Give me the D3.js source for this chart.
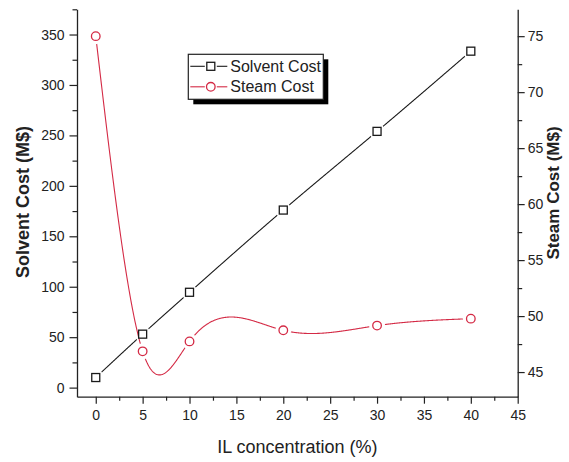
<!DOCTYPE html>
<html>
<head>
<meta charset="utf-8">
<script src="https://cdn.jsdelivr.net/npm/d3@7"></script>
<style>
  body { margin: 0; background: #fff; }
  text { font-family: Arial, "Liberation Sans", sans-serif; fill: #222; }
</style>
</head>
<body>
<svg id="chart" width="569" height="462"></svg>
<script>
// IL concentration (%) and the two cost series
const concentration = [0, 5, 10, 20, 30, 40];
const solventCost = [10, 53, 94.5, 176, 254, 333.5];     // M$, left axis
const steamCost = [75, 46.85, 47.74, 48.73, 49.15, 49.77]; // M$, right axis

const xTicks = [0, 5, 10, 15, 20, 25, 30, 35, 40, 45];
const xMinorTicks = [2.5, 7.5, 12.5, 17.5, 22.5, 27.5, 32.5, 37.5, 42.5];
const solventTicks = [0, 50, 100, 150, 200, 250, 300, 350];
const solventMinorTicks = [25, 75, 125, 175, 225, 275, 325, 375];
const steamTicks = [45, 50, 55, 60, 65, 70, 75];
const steamMinorTicks = [47.5, 52.5, 57.5, 62.5, 67.5, 72.5];

const legendLabels = ["Solvent Cost", "Steam Cost"];
const colors = { solvent: "#1a1a1a", steam: "#d42a45" };

const svg = d3.select("#chart");
const plot = { left: 77, right: 517.7, top: 9.3, bottom: 396.7 };

const x = d3.scaleLinear().domain([-2, 45]).range([plot.left, plot.right]);
const yL = d3.scaleLinear().domain([-9, 375]).range([plot.bottom, plot.top]);
const yR = d3.scaleLinear().domain([42.8, 77.4]).range([plot.bottom, plot.top]);

// Natural cubic spline y(x) through the data points
function naturalSpline(xs, ys) {
  const n = xs.length;
  const h = d3.range(n - 1).map(i => xs[i + 1] - xs[i]);
  const M = new Array(n).fill(0);
  const a = [], b = [], c = [], d = [];
  for (let i = 1; i < n - 1; i++) {
    a.push(h[i - 1]);
    b.push(2 * (h[i - 1] + h[i]));
    c.push(h[i]);
    d.push(6 * ((ys[i + 1] - ys[i]) / h[i] - (ys[i] - ys[i - 1]) / h[i - 1]));
  }
  const m = b.length;
  for (let i = 1; i < m; i++) {
    const w = a[i] / b[i - 1];
    b[i] -= w * c[i - 1];
    d[i] -= w * d[i - 1];
  }
  const sol = new Array(m);
  sol[m - 1] = d[m - 1] / b[m - 1];
  for (let i = m - 2; i >= 0; i--) sol[i] = (d[i] - c[i] * sol[i + 1]) / b[i];
  for (let i = 0; i < m; i++) M[i + 1] = sol[i];
  return function (t) {
    let i = 0;
    while (i < n - 2 && t > xs[i + 1]) i++;
    const A = (xs[i + 1] - t) / h[i], B = 1 - A;
    return A * ys[i] + B * ys[i + 1] +
      ((A * A * A - A) * M[i] + (B * B * B - B) * M[i + 1]) * h[i] * h[i] / 6;
  };
}

const samples = d3.range(concentration[0], concentration[concentration.length - 1] + 1e-9, 0.05);

const series = [
  { key: "solvent", values: solventCost, y: yL, color: colors.solvent, shape: "square" },
  { key: "steam", values: steamCost, y: yR, color: colors.steam, shape: "circle" }
];

const defs = svg.append("defs");

// Lines stop short of each marker
series.forEach(s => {
  const mask = defs.append("mask").attr("id", "gap-" + s.key)
    .attr("maskUnits", "userSpaceOnUse").attr("x", 0).attr("y", 0)
    .attr("width", 569).attr("height", 462);
  mask.append("rect").attr("width", 569).attr("height", 462).attr("fill", "#fff");
  mask.selectAll("circle").data(concentration).join("circle")
    .attr("cx", (d, i) => x(d)).attr("cy", (d, i) => s.y(s.values[i]))
    .attr("r", 8).attr("fill", "#000");
});

series.forEach(s => {
  const f = naturalSpline(concentration, s.values);
  const line = d3.line().x(t => x(t)).y(t => s.y(f(t)));
  svg.append("path").datum(samples)
    .attr("d", line)
    .attr("fill", "none")
    .attr("stroke", s.color)
    .attr("stroke-width", 1.1)
    .attr("mask", "url(#gap-" + s.key + ")");
});

// Markers
function drawMarker(g, shape, cx, cy, color) {
  if (shape === "square") {
    g.append("rect").attr("x", cx - 4).attr("y", cy - 4).attr("width", 8).attr("height", 8)
      .attr("fill", "#fff").attr("stroke", color).attr("stroke-width", 1.3);
  } else {
    g.append("circle").attr("cx", cx).attr("cy", cy).attr("r", 4.3)
      .attr("fill", "#fff").attr("stroke", color).attr("stroke-width", 1.3);
  }
}
series.forEach(s => {
  const g = svg.append("g");
  concentration.forEach((c, i) => drawMarker(g, s.shape, x(c), s.y(s.values[i]), s.color));
});

// Axes
function styleAxis(g) {
  g.selectAll("path.domain").attr("stroke", "#222").attr("stroke-width", 1.3);
  g.selectAll(".tick line").attr("stroke", "#222").attr("stroke-width", 1.2);
  g.selectAll(".tick text").style("font-size", "14px").attr("fill", "#222");
}

svg.append("g").attr("transform", `translate(0,${plot.bottom})`)
  .call(d3.axisBottom(x).tickValues(xMinorTicks).tickSize(4).tickSizeOuter(0).tickFormat(""))
  .call(styleAxis).call(g => g.select(".domain").remove());
svg.append("g").attr("transform", `translate(0,${plot.bottom})`)
  .call(d3.axisBottom(x).tickValues(xTicks).tickSize(7).tickSizeOuter(0).tickPadding(6))
  .call(styleAxis);

svg.append("g").attr("transform", `translate(${plot.left},0)`)
  .call(d3.axisLeft(yL).tickValues(solventMinorTicks).tickSize(4.5).tickSizeOuter(0).tickFormat(""))
  .call(styleAxis).call(g => g.select(".domain").remove());
svg.append("g").attr("transform", `translate(${plot.left},0)`)
  .call(d3.axisLeft(yL).tickValues(solventTicks).tickSize(7.5).tickSizeOuter(0).tickPadding(5))
  .call(styleAxis);

svg.append("g").attr("transform", `translate(${plot.right},0)`)
  .call(d3.axisRight(yR).tickValues(steamMinorTicks).tickSize(4.5).tickSizeOuter(0).tickFormat(""))
  .call(styleAxis).call(g => g.select(".domain").remove());
svg.append("g").attr("transform", `translate(${plot.right},0)`)
  .call(d3.axisRight(yR).tickValues(steamTicks).tickSize(7).tickSizeOuter(0).tickPadding(3))
  .call(styleAxis);

// Axis titles
svg.append("text").attr("x", (plot.left + plot.right) / 2 + 0).attr("y", 453)
  .attr("text-anchor", "middle").style("font-size", "18px").text("IL concentration (%)");
svg.append("text").attr("transform", "translate(29,202) rotate(-90)")
  .attr("text-anchor", "middle").style("font-size", "18px").style("font-weight", "bold")
  .text("Solvent Cost (M$)");
svg.append("text").attr("transform", "translate(559,193) rotate(-90)")
  .attr("text-anchor", "middle").style("font-size", "17px").style("font-weight", "bold")
  .text("Steam Cost (M$)");

// Legend with drop shadow
const legend = svg.append("g");
const lg = { x: 188.3, y: 54.3, w: 135, h: 45 };
legend.append("rect").attr("x", lg.x + 5).attr("y", lg.y + 5).attr("width", lg.w).attr("height", lg.h).attr("fill", "#000");
legend.append("rect").attr("x", lg.x).attr("y", lg.y).attr("width", lg.w).attr("height", lg.h)
  .attr("fill", "#fff").attr("stroke", "#222").attr("stroke-width", 1.2);
series.forEach((s, i) => {
  const cy = lg.y + 12 + i * 20.5;
  const cx = lg.x + 22.5;
  legend.append("line").attr("x1", lg.x + 2).attr("x2", cx - 6).attr("y1", cy).attr("y2", cy)
    .attr("stroke", s.color).attr("stroke-width", 1.1);
  legend.append("line").attr("x1", cx + 6).attr("x2", lg.x + 39).attr("y1", cy).attr("y2", cy)
    .attr("stroke", s.color).attr("stroke-width", 1.1);
  drawMarker(legend, s.shape, cx, cy, s.color);
  legend.append("text").attr("x", lg.x + 42).attr("y", cy).attr("dy", "0.35em")
    .style("font-size", "16px").text(legendLabels[i]);
});
</script>
</body>
</html>
